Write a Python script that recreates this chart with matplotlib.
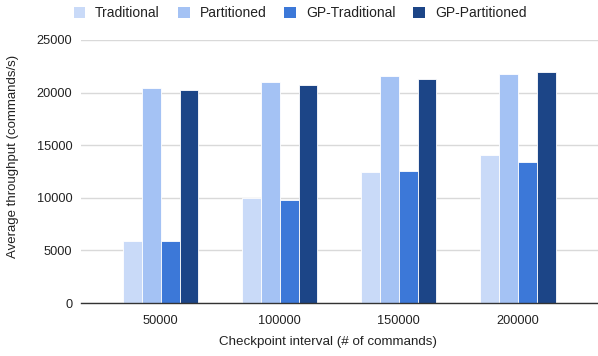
import matplotlib.pyplot as plt
from matplotlib.patches import Patch
import numpy as np

plt.rcParams['font.family'] = ['Liberation Sans', 'DejaVu Sans']

intervals = ['50000', '100000', '150000', '200000']
series_names = ['Traditional', 'Partitioned', 'GP-Traditional', 'GP-Partitioned']
traditional = [5850, 10000, 12480, 14100]
partitioned = [20450, 21050, 21590, 21780]
gp_traditional = [5850, 9780, 12500, 13400]
gp_partitioned = [20250, 20760, 21330, 21970]
colors = ['#c9daf8', '#a4c2f4', '#3c78d8', '#1c4587']

W, H = 598, 356
fig = plt.figure(figsize=(W / 100, H / 100), dpi=100)
ax = fig.add_axes([80.7 / W, 1 - 303 / H, 1 - 80.7 / W, (303 - 40) / H])

x = np.arange(len(intervals))
bw = 0.158
all_series = [traditional, partitioned, gp_traditional, gp_partitioned]
for i, vals in enumerate(all_series):
    ax.bar(x + (i - 1.5) * bw, vals, bw, color=colors[i],
           edgecolor='white', linewidth=0.6, zorder=3)

ax.set_xlim(-0.673, 3.673)
ax.set_ylim(0, 25000)
ax.set_yticks([0, 5000, 10000, 15000, 20000, 25000])
ax.set_xticks(x)
ax.set_xticklabels(intervals)
ax.tick_params(axis='both', length=0, labelsize=9.2, colors='#222222')
ax.tick_params(axis='y', pad=6)
ax.tick_params(axis='x', pad=9)
ax.grid(axis='y', color='#d9d9d9', linewidth=1, zorder=0)
for s in ['top', 'right', 'left']:
    ax.spines[s].set_visible(False)
ax.spines['bottom'].set_color('#333333')
ax.spines['bottom'].set_linewidth(1)
ax.spines['bottom'].set_zorder(4)

fig.text(13 / W, 1 - 156 / H, 'Average throughput (commands/s)', rotation=90,
         ha='center', va='center', fontsize=9.5, color='#222222')
fig.text(328 / W, 1 - 341.5 / H, 'Checkpoint interval (# of commands)',
         ha='center', va='center', fontsize=9.6, color='#222222')

handles = [Patch(facecolor=c, edgecolor='none') for c in colors]
fig.legend(handles, series_names, loc='center', bbox_to_anchor=(300 / W, 1 - 13 / H),
           ncol=4, frameon=False, fontsize=10, handlelength=0.85, handleheight=0.85,
           handletextpad=0.7, columnspacing=1.3, borderaxespad=0, labelcolor='#222222')

fig.savefig('out.png', dpi=100)
